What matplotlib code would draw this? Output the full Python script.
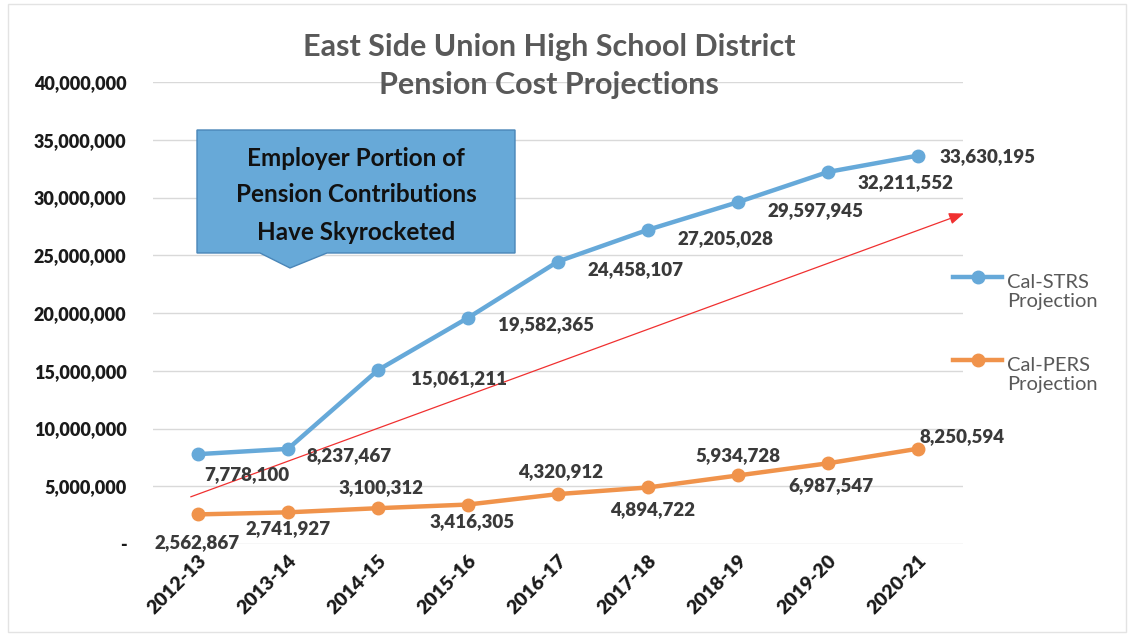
import matplotlib.pyplot as plt
from matplotlib.patches import Polygon, Rectangle
from matplotlib.lines import Line2D
from matplotlib.ticker import FuncFormatter

# Données du graphique
years = ['2012-13', '2013-14', '2014-15', '2015-16', '2016-17',
         '2017-18', '2018-19', '2019-20', '2020-21']
strs = [7778100, 8237467, 15061211, 19582365, 24458107,
        27205028, 29597945, 32211552, 33630195]
pers = [2562867, 2741927, 3100312, 3416305, 4320912,
        4894722, 5934728, 6987547, 8250594]

# Décalages des étiquettes (en points)
strs_offsets = [(35, -15), (44, -5), (58, -6), (56, -5), (56, -6),
                (56, -6), (56, -6), (56, -8), (50, -1)]
pers_offsets = [(-1, -20), (0, -12), (2, 15), (3, -12), (2, 16),
                (3, -16), (0, 14), (2, -16), (32, 9)]

blue = '#66a9d9'
orange = '#f0934b'
text_dark = '#3a3a3a'
font = 'Lato'

plt.rcParams['font.family'] = [font, 'DejaVu Sans']

W, H = 1132, 638
fig = plt.figure(figsize=(W / 100, H / 100), dpi=100)
ax = fig.add_axes([153 / W, 1 - 544 / H, 810 / W, 462 / H])

x = list(range(len(years)))
ax.plot(x, strs, color=blue, lw=3.2, marker='o', ms=9, zorder=3)
ax.plot(x, pers, color=orange, lw=3.2, marker='o', ms=9, zorder=3)

for xi, v, off in zip(x, strs, strs_offsets):
    ax.annotate(f'{v:,}', (xi, v), xytext=off, textcoords='offset points',
                ha='center', va='center', fontsize=13.5, fontweight='heavy',
                color=text_dark, zorder=4)
for xi, v, off in zip(x, pers, pers_offsets):
    ax.annotate(f'{v:,}', (xi, v), xytext=off, textcoords='offset points',
                ha='center', va='center', fontsize=13.5, fontweight='heavy',
                color=text_dark, zorder=4)

# Flèche rouge de tendance
ax.annotate('', xy=(8.54, 28.7e6), xytext=(-0.11, 4.0e6),
            arrowprops=dict(arrowstyle='-|>,head_length=0.9,head_width=0.35',
                            color='#f03030', lw=0.9),
            annotation_clip=False, zorder=2)

ax.set_xlim(-0.5, 8.5)
ax.set_ylim(0, 40e6)
ax.set_yticks(range(0, 40000001, 5000000))
ax.yaxis.set_major_formatter(FuncFormatter(lambda v, p: '-' if v == 0 else f'{int(v):,}'))
ax.set_xticks(x)
ax.set_xticklabels(years, rotation=45, ha='right', rotation_mode='anchor')
ax.tick_params(axis='y', length=0, pad=19, labelsize=13)
ax.tick_params(axis='x', length=0, pad=6, labelsize=14)
for lab in ax.get_xticklabels() + ax.get_yticklabels():
    lab.set_fontweight('heavy')
    lab.set_color('#1a1a1a')
ax.grid(axis='y', color='#d9d9d9', lw=1)
ax.set_axisbelow(True)
for s in ax.spines.values():
    s.set_visible(False)

# Titre
fig.text(549 / W, 1 - 47 / H, 'East Side Union High School District',
         ha='center', va='center', fontsize=22, fontweight='bold', color='#595959')
fig.text(549 / W, 1 - 85 / H, 'Pension Cost Projections',
         ha='center', va='center', fontsize=22, fontweight='bold', color='#595959')

# Bulle de commentaire
pts = [(197, 130), (515, 130), (515, 253), (327, 253), (290, 268), (260, 253), (197, 253)]
fig.patches.append(Polygon([(px / W, 1 - py / H) for px, py in pts], closed=True,
                           transform=fig.transFigure, facecolor='#67a9d8',
                           edgecolor='#4a86b8', lw=1, zorder=5))
for ty, t in zip([158, 195, 232], ['Employer Portion of', 'Pension Contributions',
                                   'Have Skyrocketed']):
    fig.text(356 / W, 1 - ty / H, t, ha='center', va='center', fontsize=17.5,
             fontweight='bold', color='#111111', zorder=6)

# Cadre
fig.patches.append(Rectangle((8 / W, 6 / H), 1118 / W, 628 / H, transform=fig.transFigure,
                             fill=False, edgecolor='#e3e3e3', lw=1))

# Légende
for ly, ty, col, lab in [(277, 292, blue, 'Cal-STRS\nProjection'),
                         (360, 375, orange, 'Cal-PERS\nProjection')]:
    fig.lines.append(Line2D([953 / W, 1002 / W], [1 - ly / H, 1 - ly / H], color=col,
                            lw=3.2, transform=fig.transFigure))
    fig.lines.append(Line2D([978 / W], [1 - ly / H], color=col, marker='o', ms=9,
                            transform=fig.transFigure))
    fig.text(1007 / W, 1 - ty / H, lab, ha='left', va='center', fontsize=14.5,
             color='#595959', linespacing=1.15)

fig.savefig('out.png', dpi=100, facecolor='white')
